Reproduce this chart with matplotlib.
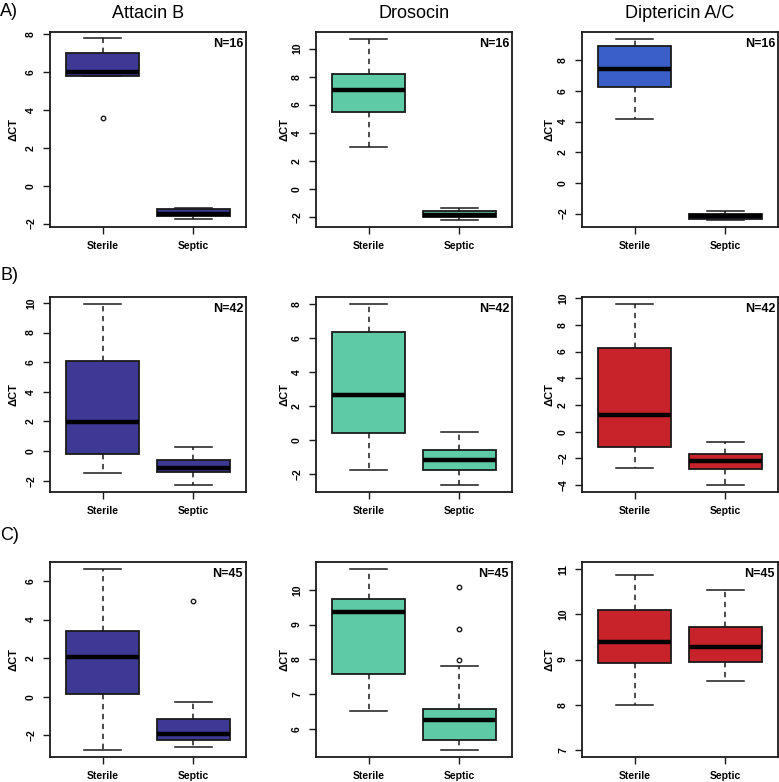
import matplotlib
matplotlib.use("Agg")
import matplotlib.pyplot as plt
from matplotlib.ticker import MultipleLocator

plt.rcParams['font.family'] = ['Liberation Sans', 'DejaVu Sans']

genes = ["Attacin B", "Drosocin", "Diptericin A/C"]
rows = ["A)", "B)", "C)"]
groups = ["Sterile", "Septic"]
n_labels = ["N=16", "N=42", "N=45"]

# stats per panel: [row][col] -> (sterile, septic), each (whislo, q1, med, q3, whishi)
stats_A = [
    [(5.79, 5.79, 6.02, 7.02, 7.79), (-1.77, -1.60, -1.48, -1.25, -1.18)],
    [(2.98, 5.50, 7.02, 8.21, 10.69), (-2.21, -2.05, -1.88, -1.62, -1.36)],
    [(4.18, 6.25, 7.42, 8.93, 9.38), (-2.41, -2.37, -2.17, -2.02, -1.83)],
]
stats_B = [
    [(-1.51, -0.18, 1.98, 6.09, 9.91), (-2.27, -1.44, -1.13, -0.63, 0.31)],
    [(-1.73, 0.39, 2.63, 6.35, 7.98), (-2.64, -1.75, -1.15, -0.56, 0.49)],
    [(-2.75, -1.17, 1.24, 6.25, 9.55), (-3.98, -2.78, -2.16, -1.66, -0.77)],
]
stats_C = [
    [(-2.75, 0.12, 2.07, 3.42, 6.60), (-2.62, -2.22, -1.91, -1.15, -0.26)],
    [(6.51, 7.57, 9.36, 9.74, 10.59), (5.40, 5.69, 6.25, 6.57, 7.80)],
    [(8.00, 8.93, 9.39, 10.10, 10.88), (8.53, 8.95, 9.28, 9.71, 10.54)],
]
outliers_A = [[[3.58], []], [[], []], [[], []]]
outliers_B = [[[], []], [[], []], [[], []]]
outliers_C = [[[], [4.97]], [[], [10.09, 8.87, 7.99]], [[], []]]

ylims = [
    [(-2.18, 8.12), (-2.73, 11.18), (-2.88, 9.85)],
    [(-2.76, 10.40), (-3.05, 8.40), (-4.52, 10.09)],
    [(-3.12, 6.98), (5.19, 10.80), (6.84, 11.16)],
]
ysteps = [[2, 2, 2], [2, 2, 2], [2, 1, 1]]

colors = [
    ["#3f3996", "#5ecaa6", "#3a5fc6"],
    ["#3f3996", "#5ecaa6", "#c8232b"],
    ["#3f3996", "#5ecaa6", "#c8232b"],
]

all_stats = [stats_A, stats_B, stats_C]
all_out = [outliers_A, outliers_B, outliers_C]

W, H = 779, 782
fig = plt.figure(figsize=(W / 100, H / 100), dpi=100)

col_left = [50, 316, 582]
row_top = [32, 297, 562]
aw, ah = 196, 195
ylab_off = [-0.16, -0.135, -0.14]

for r in range(3):
    for c in range(3):
        left = col_left[c] / W
        bottom = 1 - (row_top[r] + ah) / H
        ax = fig.add_axes([left, bottom, aw / W, ah / H])
        bstats = []
        for g in range(2):
            lo, q1, med, q3, hi = all_stats[r][c][g]
            bstats.append(dict(whislo=lo, q1=q1, med=med, q3=q3, whishi=hi,
                               fliers=all_out[r][c][g], label=groups[g]))
        ax.bxp(bstats, positions=[1, 2], widths=0.8, patch_artist=True,
               showfliers=True,
               boxprops=dict(facecolor=colors[r][c], edgecolor="#1a1a1a", linewidth=1.3),
               medianprops=dict(color="black", linewidth=3.2, solid_capstyle="butt"),
               whiskerprops=dict(color="#1a1a1a", linewidth=1.1, linestyle=(0, (3.5, 3))),
               capprops=dict(color="#1a1a1a", linewidth=1.1),
               capwidths=0.4,
               flierprops=dict(marker="o", markersize=3.2, markerfacecolor="none",
                               markeredgecolor="#1a1a1a", markeredgewidth=1.0))
        ax.set_xlim(0.42, 2.58)
        ax.set_ylim(*ylims[r][c])
        ax.yaxis.set_major_locator(MultipleLocator(ysteps[r][c]))
        ax.set_xticks([1, 2])
        ax.set_xticklabels(groups, fontsize=7.5, fontweight="bold")
        for lab in ax.get_yticklabels():
            lab.set_rotation(90)
            lab.set_va("center")
            lab.set_fontweight("bold")
        ax.tick_params(axis="y", labelsize=7.5, length=5, width=1.0, pad=5, color="#1a1a1a")
        ax.tick_params(axis="x", length=5, width=1.0, pad=5, color="#1a1a1a")
        for s in ax.spines.values():
            s.set_linewidth(1.3)
            s.set_color("#1a1a1a")
        ax.set_ylabel("ΔCT", fontsize=8, fontweight="bold")
        ax.yaxis.set_label_coords(ylab_off[c], 0.5)
        ax.text(0.985, 0.94, n_labels[r], transform=ax.transAxes, ha="right", va="center",
                fontsize=9, fontweight="bold")
        if r == 0:
            fig.text((col_left[c] + aw / 2) / W, 1 - 13 / H, genes[c], ha="center",
                     va="center", fontsize=13)

row_label_y = [11, 275, 536]
for r in range(3):
    fig.text(0.0, 1 - row_label_y[r] / H, rows[r], ha="left", va="center", fontsize=13)

fig.savefig("out.png", dpi=100)
